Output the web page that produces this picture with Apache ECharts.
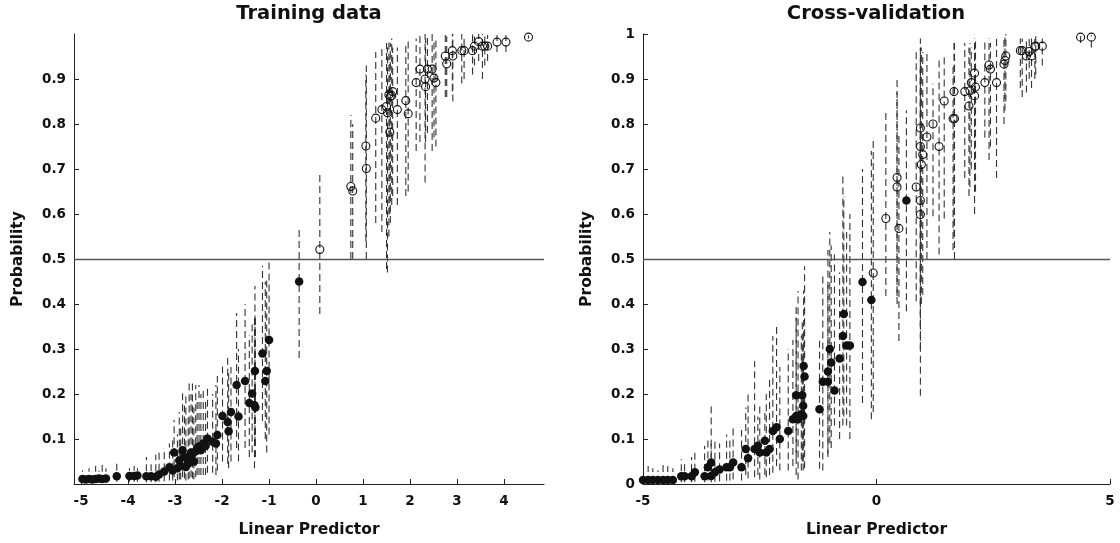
<!DOCTYPE html>
<html>
<head>
<meta charset="utf-8">
<script src="https://cdn.jsdelivr.net/npm/echarts@6/dist/echarts.min.js"></script>
<style>html,body{margin:0;padding:0;background:#fff}#c{width:1120px;height:543px}</style>
</head>
<body>
<div id="c"></div>
<script>
// rows: [linear predictor, probability, lower, upper]
const trainFilled = [
[-4.97,0.011,0.003,0.030],[-4.90,0.010,0.003,0.025],[-4.83,0.011,0.003,0.035],[-4.76,0.010,0.003,0.028],
[-4.69,0.011,0.003,0.040],[-4.62,0.012,0.003,0.030],[-4.55,0.011,0.003,0.042],[-4.47,0.012,0.003,0.035],
[-4.24,0.017,0.005,0.050],[-3.97,0.018,0.005,0.035],[-3.87,0.018,0.005,0.040],[-3.80,0.019,0.005,0.035],
[-3.61,0.017,0.004,0.060],[-3.51,0.017,0.004,0.050],[-3.41,0.016,0.004,0.065],[-3.34,0.021,0.005,0.070],
[-3.23,0.028,0.006,0.080],[-3.12,0.037,0.008,0.090],[-3.05,0.030,0.008,0.100],[-3.02,0.070,0.015,0.142],
[-2.95,0.035,0.008,0.110],[-2.91,0.052,0.010,0.160],[-2.88,0.040,0.010,0.130],[-2.84,0.075,0.015,0.210],
[-2.80,0.060,0.012,0.180],[-2.77,0.038,0.008,0.200],[-2.72,0.045,0.010,0.150],[-2.70,0.058,0.012,0.230],
[-2.66,0.070,0.015,0.200],[-2.63,0.066,0.012,0.230],[-2.60,0.050,0.010,0.170],[-2.56,0.073,0.015,0.220],
[-2.53,0.080,0.020,0.190],[-2.49,0.084,0.020,0.220],[-2.45,0.075,0.020,0.200],[-2.40,0.090,0.020,0.210],
[-2.35,0.085,0.020,0.190],[-2.31,0.101,0.025,0.220],[-2.20,0.094,0.025,0.200],[-2.13,0.090,0.020,0.220],
[-2.10,0.109,0.030,0.240],[-1.99,0.151,0.050,0.270],[-1.88,0.138,0.045,0.280],[-1.86,0.117,0.035,0.250],
[-1.81,0.160,0.050,0.260],[-1.69,0.220,0.080,0.380],[-1.65,0.150,0.050,0.300],[-1.51,0.229,0.080,0.400],
[-1.42,0.180,0.060,0.330],[-1.36,0.201,0.070,0.360],[-1.31,0.175,0.035,0.375],[-1.30,0.251,0.090,0.440],
[-1.29,0.170,0.060,0.370],[-1.14,0.290,0.140,0.485],[-1.08,0.229,0.100,0.450],[-1.05,0.251,0.070,0.460],
[-1.00,0.320,0.110,0.500],[-0.36,0.450,0.280,0.570]
];
const trainOpen = [
[0.08,0.521,0.378,0.692],[0.74,0.661,0.500,0.820],[0.78,0.651,0.500,0.800],[1.06,0.751,0.540,0.910],
[1.07,0.701,0.500,0.930],[1.27,0.813,0.580,0.960],[1.40,0.832,0.560,0.970],[1.50,0.839,0.478,0.980],
[1.52,0.825,0.470,0.970],[1.55,0.865,0.550,0.990],[1.57,0.782,0.600,0.950],[1.58,0.861,0.580,0.980],
[1.61,0.863,0.620,0.990],[1.63,0.872,0.640,0.970],[1.73,0.832,0.620,0.970],[1.91,0.852,0.640,0.980],
[1.96,0.823,0.650,0.990],[2.13,0.892,0.740,0.990],[2.21,0.922,0.760,1.000],[2.32,0.900,0.670,1.000],
[2.33,0.883,0.760,0.990],[2.37,0.922,0.780,1.000],[2.47,0.922,0.740,1.000],[2.51,0.902,0.770,0.990],
[2.55,0.892,0.750,0.990],[2.75,0.951,0.860,1.000],[2.78,0.934,0.860,0.995],[2.90,0.963,0.872,1.000],
[2.91,0.951,0.850,1.000],[3.10,0.963,0.890,1.000],[3.15,0.963,0.900,0.995],[3.33,0.963,0.910,1.000],
[3.37,0.973,0.930,1.000],[3.46,0.983,0.940,1.000],[3.54,0.973,0.900,1.000],[3.59,0.973,0.930,0.998],
[3.65,0.973,0.940,0.998],[3.85,0.982,0.960,0.998],[4.04,0.982,0.960,0.998],[4.52,0.993,0.990,0.997]
];
const cvFilled = [
[-5.00,0.009,0.002,0.030],[-4.89,0.009,0.002,0.040],[-4.79,0.009,0.002,0.035],[-4.68,0.009,0.002,0.030],
[-4.57,0.009,0.002,0.045],[-4.47,0.009,0.002,0.040],[-4.36,0.009,0.002,0.035],[-4.18,0.017,0.004,0.055],
[-4.11,0.017,0.004,0.050],[-3.96,0.017,0.004,0.060],[-3.89,0.026,0.005,0.070],[-3.68,0.017,0.004,0.085],
[-3.61,0.037,0.008,0.100],[-3.54,0.048,0.010,0.177],[-3.54,0.018,0.004,0.090],[-3.46,0.026,0.005,0.100],
[-3.36,0.032,0.006,0.090],[-3.21,0.037,0.007,0.110],[-3.14,0.037,0.008,0.100],[-3.07,0.048,0.010,0.130],
[-2.89,0.037,0.008,0.120],[-2.80,0.078,0.020,0.170],[-2.75,0.057,0.012,0.200],[-2.61,0.078,0.015,0.273],
[-2.54,0.085,0.020,0.150],[-2.50,0.070,0.010,0.180],[-2.39,0.096,0.020,0.160],[-2.36,0.070,0.015,0.200],
[-2.29,0.078,0.020,0.240],[-2.22,0.118,0.025,0.329],[-2.14,0.126,0.040,0.351],[-2.07,0.100,0.030,0.260],
[-1.89,0.118,0.030,0.300],[-1.79,0.144,0.040,0.320],[-1.72,0.151,0.020,0.370],[-1.72,0.197,0.060,0.400],
[-1.68,0.144,0.010,0.429],[-1.61,0.155,0.030,0.330],[-1.59,0.197,0.050,0.360],[-1.57,0.151,0.030,0.300],
[-1.57,0.174,0.050,0.340],[-1.56,0.262,0.080,0.430],[-1.54,0.239,0.035,0.484],[-1.22,0.166,0.034,0.320],
[-1.15,0.227,0.030,0.470],[-1.04,0.227,0.068,0.520],[-1.04,0.250,0.060,0.450],[-1.00,0.300,0.090,0.560],
[-0.97,0.270,0.080,0.530],[-0.90,0.208,0.130,0.510],[-0.79,0.279,0.100,0.470],[-0.72,0.329,0.130,0.690],
[-0.70,0.378,0.150,0.640],[-0.64,0.308,0.130,0.560],[-0.57,0.308,0.100,0.600],[-0.30,0.449,0.180,0.700],
[-0.11,0.409,0.144,0.740],[0.64,0.630,0.384,0.830]
];
const cvOpen = [
[-0.07,0.469,0.160,0.770],[0.20,0.590,0.418,0.830],[0.44,0.681,0.418,0.900],[0.44,0.660,0.400,0.870],
[0.48,0.568,0.318,0.780],[0.85,0.660,0.406,0.960],[0.94,0.791,0.196,0.990],[0.94,0.750,0.450,0.970],
[0.99,0.732,0.420,0.960],[0.96,0.710,0.400,0.970],[0.94,0.630,0.350,0.920],[0.94,0.599,0.300,0.930],
[1.08,0.771,0.500,0.960],[1.21,0.800,0.595,0.890],[1.34,0.750,0.510,0.950],[1.45,0.851,0.590,0.950],
[1.64,0.812,0.520,0.930],[1.67,0.812,0.500,0.980],[1.66,0.872,0.550,0.980],[1.89,0.872,0.680,0.980],
[1.98,0.840,0.640,0.970],[2.00,0.874,0.660,0.980],[2.03,0.892,0.700,0.970],[2.10,0.913,0.720,0.990],
[2.12,0.882,0.650,0.990],[2.10,0.863,0.600,0.980],[2.32,0.892,0.770,0.990],[2.41,0.931,0.720,0.990],
[2.44,0.922,0.750,0.980],[2.57,0.892,0.680,0.990],[2.73,0.933,0.800,0.990],[2.75,0.941,0.830,1.000],
[2.77,0.951,0.850,1.000],[3.08,0.963,0.880,0.990],[3.12,0.963,0.860,0.990],[3.21,0.951,0.870,0.990],
[3.27,0.961,0.900,0.990],[3.32,0.951,0.880,0.990],[3.39,0.972,0.900,0.995],[3.41,0.973,0.910,0.995],
[3.55,0.973,0.930,0.990],[4.37,0.993,0.980,0.997],[4.60,0.993,0.970,0.997]
];
const xTicksLeft = [-5,-4,-3,-2,-1,0,1,2,3,4];
const xTicksRight = [-5,0,5];
const yTicksLeft = [0.1,0.2,0.3,0.4,0.5,0.6,0.7,0.8,0.9];
const yTicksRight = [0,0.1,0.2,0.3,0.4,0.5,0.6,0.7,0.8,0.9,1];
const threshold = 0.5;
const titles = ['Training data','Cross-validation'];

const FONT = '"DejaVu Sans", "Liberation Sans", Arial, sans-serif';
const labelStyle = {fontFamily: FONT, fontWeight: 'bold', fontSize: 13.5, color: '#111'};
const nameStyle = {fontFamily: FONT, fontWeight: 'bold', fontSize: 15.5, color: '#111'};
const axisLine = {show: true, onZero: false, lineStyle: {color: '#222', width: 1}};

function fmtY(v){ if (v === 0) return '0'; if (v === 1) return '1'; return v.toFixed(1); }

function barSeries(rows, idx, withLine){
  const s = {
    type: 'custom', xAxisIndex: idx, yAxisIndex: idx, clip: true, silent: true,
    data: [].concat(...rows).map(r => [r[0], r[2], r[3]]),
    encode: {x: 0, y: [1, 2]},
    renderItem: function(params, api){
      const x = api.value(0), lo = api.value(1), hi = api.value(2);
      const a = api.coord([x, lo]), b = api.coord([x, hi]);
      return {type: 'line', shape: {x1: a[0], y1: a[1], x2: b[0], y2: b[1]},
        style: {stroke: '#333', lineWidth: 1.1, lineDash: [7, 4]}};
    },
    z: 2
  };
  if (withLine) s.markLine = {silent: true, symbol: 'none', label: {show: false},
    lineStyle: {color: '#555', width: 1.4, type: 'solid', opacity: 1}, data: [{yAxis: threshold}], animation: false};
  return s;
}
function filledSeries(rows, idx){
  return {type: 'scatter', xAxisIndex: idx, yAxisIndex: idx, symbol: 'circle', symbolSize: 8.5,
    data: rows.map(r => [r[0], r[1]]), itemStyle: {color: '#111', opacity: 1}, z: 3, silent: true};
}
function openSeries(rows, idx){
  return {type: 'scatter', xAxisIndex: idx, yAxisIndex: idx, symbol: 'circle', symbolSize: 8,
    data: rows.map(r => [r[0], r[1]]), itemStyle: {color: 'rgba(255,255,255,0)', borderColor: '#111', borderWidth: 1.1, opacity: 1}, z: 3, silent: true};
}

const chart = echarts.init(document.getElementById('c'), null, {renderer: 'canvas'});
chart.setOption({
  animation: false,
  backgroundColor: '#fff',
  graphic: [
    {type: 'text', x: 309, y: 4, style: {text: titles[0], textAlign: 'center', textVerticalAlign: 'top', font: 'bold 19.5px ' + FONT, fill: '#111'}},
    {type: 'text', x: 876, y: 4, style: {text: titles[1], textAlign: 'center', textVerticalAlign: 'top', font: 'bold 19.5px ' + FONT, fill: '#111'}}
  ],
  grid: [
    {left: 74, top: 34, width: 470, height: 452},
    {left: 643, top: 34, width: 467, height: 451}
  ],
  xAxis: [
    {type: 'value', gridIndex: 0, min: -5.15, max: 4.85, splitLine: {show: false}, axisLine: axisLine,
      axisTick: {show: true, inside: true, length: 5, customValues: xTicksLeft, lineStyle: {color: '#222'}},
      axisLabel: {customValues: xTicksLeft, margin: 10, ...labelStyle},
      name: 'Linear Predictor', nameLocation: 'middle', nameGap: 38, nameTextStyle: nameStyle},
    {type: 'value', gridIndex: 1, min: -5, max: 5, splitLine: {show: false}, axisLine: axisLine,
      axisTick: {show: true, inside: true, length: 5, customValues: xTicksRight, lineStyle: {color: '#222'}},
      axisLabel: {customValues: xTicksRight, margin: 10, ...labelStyle},
      name: 'Linear Predictor', nameLocation: 'middle', nameGap: 38, nameTextStyle: nameStyle}
  ],
  yAxis: [
    {type: 'value', gridIndex: 0, min: 0, max: 1, splitLine: {show: false}, axisLine: axisLine,
      axisTick: {show: true, inside: true, length: 5, customValues: yTicksLeft, lineStyle: {color: '#222'}},
      axisLabel: {customValues: yTicksLeft, formatter: fmtY, margin: 8, ...labelStyle},
      name: 'Probability', nameLocation: 'middle', nameGap: 48, nameTextStyle: nameStyle},
    {type: 'value', gridIndex: 1, min: 0, max: 1, splitLine: {show: false}, axisLine: axisLine,
      axisTick: {show: true, inside: true, length: 5, customValues: yTicksRight, lineStyle: {color: '#222'}},
      axisLabel: {customValues: yTicksRight, formatter: fmtY, margin: 8, ...labelStyle},
      name: 'Probability', nameLocation: 'middle', nameGap: 48, nameTextStyle: nameStyle}
  ],
  series: [
    barSeries([trainFilled, trainOpen], 0, true),
    filledSeries(trainFilled, 0),
    openSeries(trainOpen, 0),
    barSeries([cvFilled, cvOpen], 1, true),
    filledSeries(cvFilled, 1),
    openSeries(cvOpen, 1)
  ]
});
</script>
</body>
</html>
